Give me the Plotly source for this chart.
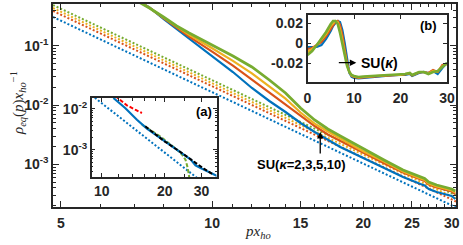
import plotly.graph_objects as go
import math

# ---------------- data ----------------
# main panel: solid curves SU(kappa) for kappa = 2,3,5,10
px_solid = [7.0, 7.5, 8.0, 8.5, 9.0, 10, 11, 12, 13, 14, 15, 16, 17, 18, 20, 22, 24, 26, 26.5, 27, 28, 29, 30, 30.5]
rho_k2 = [0.637, 0.4406, 0.2820, 0.1913, 0.1297, 0.0670, 0.0360, 0.01935, 0.01168, 0.00762, 0.00497, 0.00350,
          0.00257, 0.001957, 0.001277, 0.000866, 0.000610, 0.000465, 0.000439, 0.000383, 0.000341, 0.000316,
          0.000292, 0.000260]
rho_k3 = [0.625, 0.4375, 0.2909, 0.2003, 0.1424, 0.0795, 0.0462, 0.02682, 0.01619, 0.01024, 0.00645, 0.00442,
          0.00318, 0.00247, 0.001576, 0.001044, 0.000727, 0.000554, 0.000523, 0.000456, 0.000406, 0.000376,
          0.000348, 0.000316]
rho_k5 = [0.613, 0.4358, 0.2978, 0.2075, 0.1527, 0.0904, 0.0556, 0.03424, 0.02067, 0.01277, 0.00747, 0.00486,
          0.00357, 0.00272, 0.001663, 0.001111, 0.000759, 0.000578, 0.000544, 0.000476, 0.000424, 0.000392,
          0.000363, 0.000333]
rho_k10 = [0.601, 0.4322, 0.3048, 0.2149, 0.1637, 0.1028, 0.0670, 0.04373, 0.02640, 0.01594, 0.00890, 0.00559,
           0.00394, 0.00300, 0.001811, 0.001182, 0.000801, 0.000610, 0.000576, 0.000503, 0.000448, 0.000414,
           0.000383, 0.000355]

# main panel: dotted asymptotes (end points of straight log-log lines)
px_tail = [4.82, 30.6]
tail_k2 = [0.305, 1.877e-4]
tail_k3 = [0.385, 2.36e-4]
tail_k5 = [0.432, 2.66e-4]
tail_k10 = [0.485, 2.99e-4]

# inset (a)
a_px_dot = [8.95, 35.4]
a_rho_dot = [0.0212, 8.67e-5]
a_px_solid = [11.37, 12.94, 14.73, 16.45, 19.06, 22.09, 24.68, 26.58, 28.09, 29.69, 32.54, 35.71]
a_rho_solid = [0.01824, 0.01040, 0.00539, 0.003253, 0.001930, 0.001100, 0.000755, 0.000583, 0.000416,
               0.000358, 0.000286, 0.000228]
a_px_black = [16.15, 19.78, 23.79, 27.56, 30.80, 33.80]
a_rho_black = [0.003722, 0.001658, 0.000879, 0.000501, 0.000344, 0.000256]
a_px_green = [15.57, 19.06, 22.94, 24.24, 25.15, 25.79, 26.20, 26.40]
a_rho_green = [0.004072, 0.002099, 0.001, 0.000755, 0.000570, 0.000358, 0.000216, 0.00014]
a_px_red = [11.6, 13.19, 14.46, 15.57]
a_rho_red = [0.0205, 0.01210, 0.00945, 0.00785]

# inset (b)
b_px = [0, 1, 2, 3, 4, 5, 5.5, 6, 6.5, 7, 7.5, 8, 8.5, 9, 9.5, 10, 11, 12, 14, 16, 18, 20, 21, 22, 22.5,
        23, 24, 25, 26, 27, 28, 29, 30]
b_k2 = [-0.004, -0.004, -0.004, -0.002, 0.004, 0.012, 0.017, 0.020, 0.022, 0.021, 0.013, 0.000, -0.016,
        -0.030, -0.034, -0.035, -0.0355, -0.035, -0.034, -0.033, -0.0325, -0.032, -0.032, -0.031, -0.033,
        -0.032, -0.030, -0.029, -0.030, -0.028, -0.031, -0.025, -0.020]
b_k3 = [-0.006, -0.005, -0.002, 0.001, 0.007, 0.014, 0.018, 0.021, 0.022, 0.018, 0.008, -0.006, -0.020,
        -0.029, -0.033, -0.034, -0.035, -0.0345, -0.0335, -0.033, -0.0325, -0.032, -0.0315, -0.0305, -0.0325,
        -0.0315, -0.0295, -0.029, -0.030, -0.027, -0.029, -0.022, -0.021]
b_k5 = [-0.009, -0.006, -0.002, 0.003, 0.009, 0.017, 0.020, 0.022, 0.021, 0.014, 0.003, -0.010, -0.022,
        -0.029, -0.0325, -0.0335, -0.0345, -0.034, -0.033, -0.0325, -0.032, -0.032, -0.031, -0.030, -0.032,
        -0.031, -0.029, -0.029, -0.0305, -0.028, -0.0285, -0.023, -0.0205]
b_k10 = [-0.012, -0.008, -0.002, 0.004, 0.011, 0.019, 0.022, 0.022, 0.019, 0.010, -0.002, -0.014, -0.023,
         -0.029, -0.032, -0.033, -0.034, -0.0335, -0.033, -0.0325, -0.032, -0.032, -0.031, -0.030, -0.032,
         -0.031, -0.029, -0.029, -0.031, -0.029, -0.028, -0.024, -0.020]

x_major = [5, 10, 15, 20, 25, 30]
x_major_text = ["5", "10", "15", "20", "25", "30"]
y_major = [1e-3, 1e-2, 1e-1]
y_major_text = ["10<sup>-3</sup>", "10<sup>-2</sup>", "10<sup>-1</sup>"]

# ---------------- style ----------------
C_BLUE = "#0072BD"
C_RED = "#D95319"
C_YEL = "#EDB120"
C_GRN = "#77AC30"
AX = "#262626"
TICKFONT = dict(family="Liberation Sans, Arial", size=14, color=AX, weight="bold")

fig = go.Figure()

colors = [C_BLUE, C_RED, C_YEL, C_GRN]
tails = [tail_k2, tail_k3, tail_k5, tail_k10]
solids = [rho_k2, rho_k3, rho_k5, rho_k10]
for c, t in zip(colors, tails):
    fig.add_trace(go.Scatter(x=px_tail, y=t, mode="lines", line=dict(color=c, width=2, dash="2px,2px"),
                             xaxis="x", yaxis="y"))
for c, s in zip(colors, solids):
    fig.add_trace(go.Scatter(x=px_solid, y=s, mode="lines", line=dict(color=c, width=2.2 if c != C_GRN else 2.8),
                             xaxis="x", yaxis="y"))

# inset (a)
fig.add_trace(go.Scatter(x=a_px_dot, y=a_rho_dot, mode="lines", line=dict(color=C_BLUE, width=2, dash="2px,2px"),
                         xaxis="x2", yaxis="y2"))
fig.add_trace(go.Scatter(x=a_px_red, y=a_rho_red, mode="lines", line=dict(color="#FF0000", width=2, dash="4px,2px"),
                         xaxis="x2", yaxis="y2"))
fig.add_trace(go.Scatter(x=a_px_green, y=a_rho_green, mode="lines", line=dict(color=C_GRN, width=2, dash="4px,2px"),
                         xaxis="x2", yaxis="y2"))
fig.add_trace(go.Scatter(x=a_px_solid, y=a_rho_solid, mode="lines", line=dict(color=C_BLUE, width=2.2),
                         xaxis="x2", yaxis="y2"))
fig.add_trace(go.Scatter(x=a_px_black, y=a_rho_black, mode="lines", line=dict(color="black", width=2, dash="4px,2px"),
                         xaxis="x2", yaxis="y2"))

# inset (b)
for c, s in zip(colors, [b_k2, b_k3, b_k5, b_k10]):
    fig.add_trace(go.Scatter(x=b_px, y=s, mode="lines", line=dict(color=c, width=2.2 if c != C_GRN else 2.6),
                             xaxis="x3", yaxis="y3"))


def minor_log(lo, hi):
    vals = []
    for e in range(-5, 3):
        for m in range(2, 10):
            v = m * 10 ** e
            if lo <= v <= hi:
                vals.append(v)
    return vals


axis_common = dict(showline=True, linecolor=AX, linewidth=1.5, mirror="ticks", ticks="inside",
                   tickcolor=AX, showgrid=False, zeroline=False, tickfont=TICKFONT)

W, H, L, T = 403, 203, 53, 4


def dx(X):
    return (X - L) / W


def dy(Y):
    return (T + H - Y) / H


fig.update_layout(
    width=463, height=245,
    margin=dict(l=L, r=463 - L - W, t=T, b=245 - T - H, autoexpand=False),
    paper_bgcolor="white", plot_bgcolor="white", showlegend=False,
    xaxis=dict(type="log", range=[math.log10(4.82), math.log10(30.6)], domain=[0, 1], anchor="y",
               tickmode="array", tickvals=x_major, ticktext=x_major_text, ticklen=6, tickwidth=1.2,
               ticklabelstandoff=2,
               minor=dict(tickmode="array", tickvals=[6, 7, 8, 9, 11, 12, 13, 14, 16, 17, 18, 19, 21, 22, 23, 24,
                                                      26, 27, 28, 29], ticklen=3, ticks="inside", tickcolor=AX,
                          showgrid=False),
               **axis_common),
    yaxis=dict(type="log", range=[-3.72, -0.2968], domain=[0, 1], anchor="x",
               tickmode="array", tickvals=y_major, ticktext=y_major_text, ticklen=6, tickwidth=1.2,
               minor=dict(tickmode="array", tickvals=minor_log(1.9e-4, 0.5), ticklen=3, ticks="inside",
                          tickcolor=AX, showgrid=False),
               **axis_common),
    xaxis2=dict(type="log", range=[math.log10(8.95), math.log10(35.4)], domain=[dx(91.7), dx(216.5)],
                anchor="y2", tickmode="array", tickvals=[10, 20, 30], ticktext=["10", "20", "30"], ticklen=4,
                minor=dict(tickmode="array", tickvals=[12, 14, 16, 18, 25], ticklen=3, ticks="inside",
                           tickcolor=AX, showgrid=False),
                **axis_common),
    yaxis2=dict(type="log", range=[-3.666, -1.739], domain=[dy(177), dy(98)], anchor="x2",
                tickmode="array", tickvals=[1e-3, 1e-2], ticktext=["10<sup>-3</sup>", "10<sup>-2</sup>"],
                ticklen=4,
                minor=dict(tickmode="array", tickvals=minor_log(2.2e-4, 0.018), ticklen=2, ticks="inside",
                           tickcolor=AX, showgrid=False),
                **axis_common),
    xaxis3=dict(range=[0, 30], domain=[dx(307.5), dx(447)], anchor="y3", tickmode="array",
                tickvals=[0, 10, 20, 30], ticklen=4, ticklabelstandoff=2, **axis_common),
    yaxis3=dict(range=[-0.039, 0.028], domain=[dy(82), dy(15)], anchor="x3", tickmode="array",
                tickvals=[-0.02, 0, 0.02], ticktext=["-0.02", "0", "0.02"], ticklen=4, **axis_common),
)

ann_font = dict(family="Liberation Sans, Arial", size=13, color="black", weight="bold")
title_font = dict(family="Liberation Serif, Times New Roman, serif", size=15, color=AX)

fig.add_annotation(x=1.1774, y=-2.995, xref="x", yref="y", text="SU(<i>κ</i>=2,3,5,10)", showarrow=False,
                   font=ann_font)
fig.add_annotation(x=1.2153, y=-2.4553, xref="x", yref="y", text="", showarrow=True, ax=0, ay=23,
                   arrowhead=2, arrowsize=1, arrowwidth=1.3, arrowcolor="black")
fig.add_annotation(x=10.5, y=-0.0197, xref="x3", yref="y3", text="", showarrow=True, ax=-19, ay=0,
                   arrowhead=2, arrowsize=1, arrowwidth=1.3, arrowcolor="black")
fig.add_annotation(x=15.4, y=-0.0197, xref="x3", yref="y3", text="SU(<i>κ</i>)", showarrow=False,
                   font=dict(ann_font, size=14))
fig.add_annotation(x=26.0, y=0.018, xref="x3", yref="y3", text="(b)", showarrow=False, font=ann_font)
fig.add_annotation(x=1.487, y=-2.056, xref="x2", yref="y2", text="(a)", showarrow=False, font=ann_font)

fig.add_annotation(x=dx(18), y=dy(103), xref="paper", yref="paper", textangle=-90, showarrow=False,
                   xanchor="center", yanchor="middle",
                   text="<i>ρ<sub>eq</sub></i>(<i>p</i>)<i>x</i><sub><i>ho</i></sub><sup>−1</sup>",
                   font=title_font)
fig.add_annotation(x=dx(258), y=dy(232), xref="paper", yref="paper", showarrow=False,
                   xanchor="center", yanchor="middle",
                   text="<i>px</i><sub><i>ho</i></sub>", font=title_font)

fig.write_html("out.html", config={"displayModeBar": False},
               post_script="document.body.style.margin='0';document.body.style.overflow='hidden';")
